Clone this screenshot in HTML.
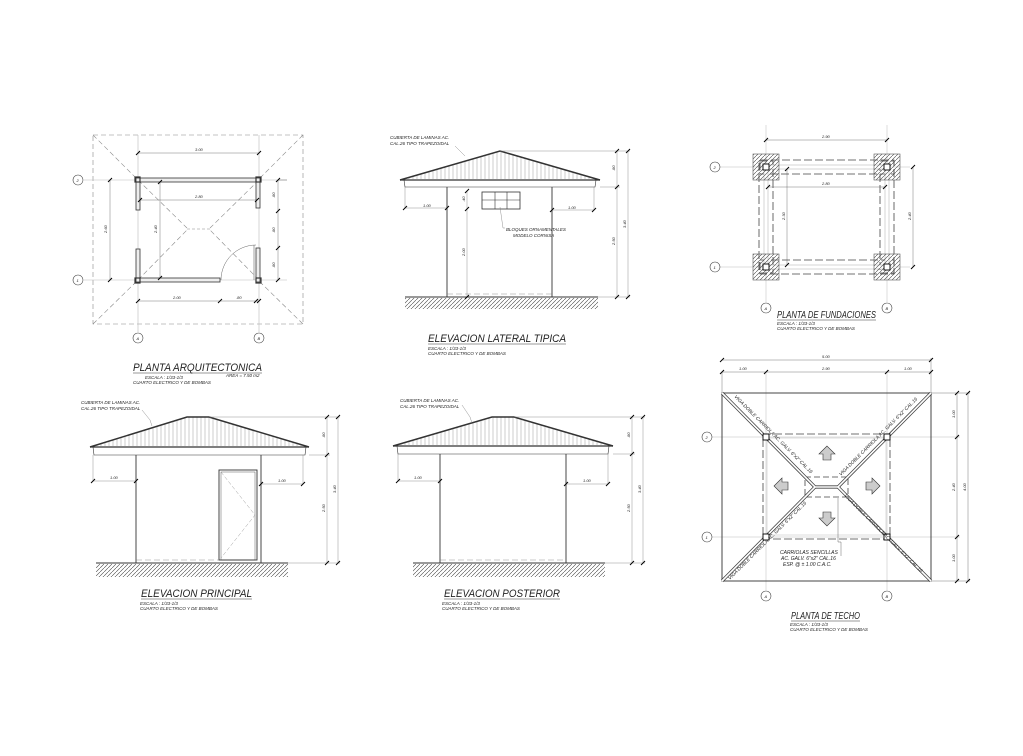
<!DOCTYPE html>
<html><head><meta charset="utf-8"><style>
html,body{margin:0;padding:0;background:#fff}
svg{display:block}
text{font-family:"Liberation Sans",sans-serif;font-style:italic;fill:#222}
.t{font-size:11px}
.s{font-size:4.5px}
.d{font-size:4px;font-style:normal}
</style></head><body>
<svg width="1023" height="756" viewBox="0 0 1023 756" xmlns="http://www.w3.org/2000/svg">
<defs>
<pattern id="vl" width="4" height="10" patternUnits="userSpaceOnUse"><line x1="1" y1="0" x2="1" y2="10" stroke="#999" stroke-width="0.5"/></pattern>
<pattern id="hz" width="4" height="4" patternUnits="userSpaceOnUse"><line x1="0" y1="4" x2="4" y2="0" stroke="#444" stroke-width="0.6"/></pattern>
<g id="tk"><line x1="-2" y1="2" x2="2" y2="-2" stroke="#000" stroke-width="1"/></g>
</defs>

<!-- ===== PLANTA ARQUITECTONICA ===== -->
<g stroke="#888" stroke-width="0.6" fill="none">
<rect x="93" y="135" width="210" height="189" stroke-dasharray="5,3"/>
<line x1="93" y1="135" x2="136" y2="178" stroke-dasharray="5,3"/>
<line x1="303" y1="135" x2="260" y2="178" stroke-dasharray="5,3"/>
<line x1="93" y1="324" x2="136" y2="282" stroke-dasharray="5,3"/>
<line x1="303" y1="324" x2="260" y2="282" stroke-dasharray="5,3"/>
<line x1="138" y1="180" x2="187" y2="228" stroke-dasharray="5,3"/>
<line x1="259" y1="180" x2="210" y2="228" stroke-dasharray="5,3"/>
<line x1="138" y1="280" x2="187" y2="230" stroke-dasharray="5,3"/>
<line x1="259" y1="280" x2="210" y2="230" stroke-dasharray="5,3"/>
<line x1="187" y1="229" x2="210" y2="229" stroke-dasharray="3,2"/>
<line x1="138" y1="135" x2="138" y2="332" stroke="#bbb"/>
<line x1="259" y1="135" x2="259" y2="332" stroke="#bbb"/>
<line x1="84" y1="180" x2="287" y2="180" stroke="#bbb"/>
<line x1="84" y1="280" x2="287" y2="280" stroke="#bbb"/>
</g>
<g stroke="#333" stroke-width="0.8" fill="#eee">
<rect x="136" y="178" width="124" height="4"/>
<rect x="136" y="178" width="4" height="32"/>
<rect x="136" y="249" width="4" height="33"/>
<rect x="256" y="178" width="4" height="30"/>
<rect x="256" y="248" width="4" height="34"/>
<rect x="136" y="278" width="84" height="4"/>
<rect x="135" y="177" width="5" height="5" fill="none" stroke-width="1.2"/>
<rect x="256" y="177" width="5" height="5" fill="none" stroke-width="1.2"/>
<rect x="135" y="278" width="5" height="5" fill="none" stroke-width="1.2"/>
<rect x="256" y="278" width="5" height="5" fill="none" stroke-width="1.2"/>
</g>
<path d="M221 280 A35 35 0 0 1 256 245" stroke="#666" stroke-width="0.5" fill="none"/>
<line x1="254" y1="245" x2="254" y2="280" stroke="#666" stroke-width="0.6"/>
<g stroke="#555" stroke-width="0.4">
<line x1="138" y1="153" x2="259" y2="153"/><line x1="140" y1="200" x2="257" y2="200"/>
<line x1="110" y1="180" x2="110" y2="280"/><line x1="160" y1="182" x2="160" y2="278"/>
<line x1="278" y1="180" x2="278" y2="280"/><line x1="278" y1="180" x2="287" y2="180"/>
<line x1="138" y1="301" x2="259" y2="301"/>
</g>
<g><use href="#tk" x="138" y="153"/><use href="#tk" x="259" y="153"/><use href="#tk" x="140" y="200"/><use href="#tk" x="257" y="200"/>
<use href="#tk" x="110" y="180"/><use href="#tk" x="110" y="280"/><use href="#tk" x="160" y="182"/><use href="#tk" x="160" y="278"/>
<use href="#tk" x="278" y="180"/><use href="#tk" x="278" y="211"/><use href="#tk" x="278" y="248"/><use href="#tk" x="278" y="280"/>
<use href="#tk" x="138" y="301"/><use href="#tk" x="220" y="301"/><use href="#tk" x="256" y="301"/><use href="#tk" x="259" y="301"/></g>
<g class="d"><text x="195" y="151">3.00</text><text x="195" y="198">2.80</text><text x="173" y="299">2.00</text><text x="236" y="299">.80</text>
<text x="107" y="233" transform="rotate(-90 107 233)">2.60</text><text x="157" y="233" transform="rotate(-90 157 233)">2.40</text>
<text x="275" y="198" transform="rotate(-90 275 198)">.80</text><text x="275" y="233" transform="rotate(-90 275 233)">.80</text><text x="275" y="268" transform="rotate(-90 275 268)">.80</text></g>
<g stroke="#444" stroke-width="0.6" fill="#fff">
<circle cx="78" cy="180" r="5"/><circle cx="78" cy="280" r="5"/><circle cx="138" cy="338" r="5"/><circle cx="259" cy="338" r="5"/></g>
<g class="d"><text x="76.5" y="182">2</text><text x="76.5" y="282">1</text><text x="136.5" y="340">A</text><text x="257.5" y="340">B</text></g>
<text class="t" x="133" y="371" textLength="129" lengthAdjust="spacingAndGlyphs">PLANTA ARQUITECTONICA</text>
<line x1="133" y1="373" x2="262" y2="373" stroke="#333" stroke-width="0.5"/>
<text class="s" x="145" y="379">ESCALA : 1/33-1/3</text><text class="s" x="226" y="377">AREA = 7.50 m2</text>
<text class="s" x="133" y="384">CUARTO ELECTRICO Y DE BOMBAS</text>

<!-- ===== ELEVACION LATERAL ===== -->
<polygon points="402,179 500,151 598,179" fill="url(#vl)"/>
<g stroke="#333" fill="none">
<polyline points="400,180 500,151 600,180" stroke-width="1.5"/>
<line x1="400" y1="180" x2="600" y2="180" stroke-width="1.2"/>
<polyline points="404,180 405,187 595,187 596,180" stroke-width="0.6"/>
<line x1="447" y1="187" x2="447" y2="297" stroke-width="0.9"/><line x1="552" y1="187" x2="552" y2="297" stroke-width="0.9"/>
<line x1="405" y1="297" x2="598" y2="297" stroke-width="1"/>
<rect x="482" y="192" width="38" height="17" stroke-width="0.8"/>
<line x1="495" y1="192" x2="495" y2="209" stroke-width="0.6"/><line x1="507" y1="192" x2="507" y2="209" stroke-width="0.6"/><line x1="482" y1="200" x2="520" y2="200" stroke-width="0.6"/>
</g>
<rect x="405" y="298" width="193" height="11" fill="url(#hz)"/>
<g stroke="#777" stroke-width="0.4" fill="none">
<line x1="447" y1="294" x2="552" y2="294" stroke-dasharray="6,3"/>
<line x1="405" y1="208" x2="447" y2="208"/><line x1="405" y1="187" x2="405" y2="208"/>
<line x1="552" y1="210" x2="594" y2="210"/><line x1="594" y1="187" x2="594" y2="210"/>
<line x1="467" y1="191" x2="467" y2="297"/>
<line x1="617" y1="151" x2="617" y2="297"/><line x1="628" y1="151" x2="628" y2="297"/>
<line x1="500" y1="151" x2="630" y2="151"/><line x1="600" y1="187" x2="620" y2="187"/><line x1="598" y1="297" x2="630" y2="297"/>
<polyline points="500,207 503,228 505,228" /><polyline points="455,146 465,156"/>
</g>
<g><use href="#tk" x="405" y="208"/><use href="#tk" x="447" y="208"/><use href="#tk" x="552" y="210"/><use href="#tk" x="594" y="210"/>
<use href="#tk" x="617" y="151"/><use href="#tk" x="617" y="187"/><use href="#tk" x="617" y="297"/><use href="#tk" x="628" y="151"/><use href="#tk" x="628" y="297"/>
<use href="#tk" x="467" y="191"/><use href="#tk" x="467" y="209"/><use href="#tk" x="467" y="297"/></g>
<g class="d"><text x="423" y="207">1.00</text><text x="568" y="209">1.00</text>
<text x="615" y="171" transform="rotate(-90 615 171)">.80</text><text x="615" y="245" transform="rotate(-90 615 245)">2.50</text><text x="626" y="228" transform="rotate(-90 626 228)">3.40</text>
<text x="465" y="202" transform="rotate(-90 465 202)">.40</text><text x="465" y="256" transform="rotate(-90 465 256)">2.00</text></g>
<text class="s" x="390" y="139">CUBIERTA DE LAMINAS AC.</text><text class="s" x="390" y="145">CAL.26 TIPO TRAPEZOIDAL</text>
<text class="s" x="506" y="231">BLOQUES ORNAMENTALES</text><text class="s" x="513" y="237">MODELO CORNISA</text>
<text class="t" x="428" y="342" textLength="138" lengthAdjust="spacingAndGlyphs">ELEVACION LATERAL TIPICA</text>
<line x1="428" y1="344" x2="566" y2="344" stroke="#333" stroke-width="0.5"/>
<text class="s" x="428" y="350">ESCALA : 1/33-1/3</text><text class="s" x="428" y="355">CUARTO ELECTRICO Y DE BOMBAS</text>

<!-- ===== PLANTA DE FUNDACIONES ===== -->
<g stroke="#bbb" stroke-width="0.5">
<line x1="766" y1="125" x2="766" y2="302"/><line x1="887" y1="125" x2="887" y2="302"/>
<line x1="720" y1="167" x2="910" y2="167"/><line x1="720" y1="267" x2="910" y2="267"/></g>
<g stroke="#444" stroke-width="0.8" fill="none" stroke-dasharray="8,3">
<rect x="760" y="160" width="134" height="14"/><rect x="760" y="260" width="134" height="14"/>
<rect x="759" y="161" width="14" height="112"/><rect x="880" y="161" width="14" height="112"/>
</g>
<g stroke="#aaa" stroke-width="0.5" fill="#fff">
<rect x="766" y="165" width="121" height="4"/><rect x="766" y="265" width="121" height="4"/>
<rect x="764" y="167" width="4" height="100"/><rect x="885" y="167" width="4" height="100"/></g>
<g stroke="#555" stroke-width="0.6" fill="url(#hz)">
<rect x="753" y="154" width="26" height="26"/><rect x="874" y="154" width="26" height="26"/>
<rect x="753" y="254" width="26" height="26"/><rect x="874" y="254" width="26" height="26"/></g>
<g stroke="#000" stroke-width="0.9" fill="#fff">
<rect x="763" y="164" width="6" height="6"/><rect x="884" y="164" width="6" height="6"/><rect x="763" y="264" width="6" height="6"/><rect x="884" y="264" width="6" height="6"/></g>
<g stroke="#555" stroke-width="0.4">
<line x1="766" y1="140" x2="887" y2="140"/><line x1="768" y1="187" x2="885" y2="187"/>
<line x1="787" y1="169" x2="787" y2="265"/><line x1="913" y1="167" x2="913" y2="267"/></g>
<g><use href="#tk" x="766" y="140"/><use href="#tk" x="887" y="140"/><use href="#tk" x="768" y="187"/><use href="#tk" x="885" y="187"/>
<use href="#tk" x="787" y="169"/><use href="#tk" x="787" y="265"/><use href="#tk" x="913" y="167"/><use href="#tk" x="913" y="267"/></g>
<g class="d"><text x="822" y="138">2.90</text><text x="822" y="185">2.80</text>
<text x="785" y="220" transform="rotate(-90 785 220)">2.30</text><text x="911" y="220" transform="rotate(-90 911 220)">2.40</text></g>
<g stroke="#444" stroke-width="0.6" fill="#fff"><circle cx="715" cy="167" r="5"/><circle cx="715" cy="267" r="5"/><circle cx="766" cy="308" r="5"/><circle cx="887" cy="308" r="5"/></g>
<g class="d"><text x="713.5" y="169">2</text><text x="713.5" y="269">1</text><text x="764.5" y="310">A</text><text x="885.5" y="310">B</text></g>
<text class="t" x="777" y="318" style="font-size:10px" textLength="99" lengthAdjust="spacingAndGlyphs">PLANTA DE FUNDACIONES</text>
<line x1="777" y1="320" x2="876" y2="320" stroke="#333" stroke-width="0.5"/>
<text class="s" x="777" y="325">ESCALA : 1/33-1/3</text><text class="s" x="777" y="330">CUARTO ELECTRICO Y DE BOMBAS</text>

<!-- ===== ELEVACION PRINCIPAL ===== -->
<polygon points="92,446 187,417 209,417 308,446" fill="url(#vl)"/>
<g stroke="#333" fill="none">
<polyline points="90,447 187,417 209,417 309,447" stroke-width="1.5"/>
<line x1="90" y1="447" x2="309" y2="447" stroke-width="1.2"/>
<polyline points="93,447 94,455 305,455 306,447" stroke-width="0.6"/>
<line x1="136" y1="455" x2="136" y2="563" stroke-width="0.9"/><line x1="261" y1="455" x2="261" y2="563" stroke-width="0.9"/>
<line x1="96" y1="563" x2="288" y2="563" stroke-width="1"/>
<rect x="219" y="470" width="38" height="90" stroke-width="0.9"/><rect x="221" y="472" width="34" height="88" stroke-width="0.4"/>
<polyline points="221,472 255,515 221,558" stroke="#888" stroke-width="0.4" stroke-dasharray="4,2"/>
</g>
<rect x="96" y="564" width="192" height="13" fill="url(#hz)"/>
<g stroke="#777" stroke-width="0.4" fill="none">
<line x1="136" y1="560" x2="219" y2="560" stroke-dasharray="6,3"/>
<line x1="93" y1="481" x2="136" y2="481"/><line x1="93" y1="455" x2="93" y2="481"/>
<line x1="261" y1="484" x2="303" y2="484"/><line x1="303" y1="455" x2="303" y2="484"/>
<line x1="327" y1="417" x2="327" y2="563"/><line x1="338" y1="417" x2="338" y2="563"/>
<line x1="209" y1="417" x2="340" y2="417"/><line x1="309" y1="455" x2="330" y2="455"/><line x1="288" y1="563" x2="340" y2="563"/>
<polyline points="142,410 150,420 152,426"/>
</g>
<g><use href="#tk" x="93" y="481"/><use href="#tk" x="136" y="481"/><use href="#tk" x="261" y="484"/><use href="#tk" x="303" y="484"/>
<use href="#tk" x="327" y="417"/><use href="#tk" x="327" y="455"/><use href="#tk" x="327" y="563"/><use href="#tk" x="338" y="417"/><use href="#tk" x="338" y="563"/></g>
<g class="d"><text x="110" y="479">1.00</text><text x="278" y="482">1.00</text>
<text x="325" y="438" transform="rotate(-90 325 438)">.80</text><text x="325" y="512" transform="rotate(-90 325 512)">2.50</text><text x="336" y="493" transform="rotate(-90 336 493)">3.40</text></g>
<text class="s" x="81" y="404">CUBIERTA DE LAMINAS AC.</text><text class="s" x="81" y="410">CAL.26 TIPO TRAPEZOIDAL</text>
<text class="t" x="141" y="597" textLength="111" lengthAdjust="spacingAndGlyphs">ELEVACION PRINCIPAL</text>
<line x1="141" y1="599" x2="252" y2="599" stroke="#333" stroke-width="0.5"/>
<text class="s" x="140" y="605">ESCALA : 1/33-1/3</text><text class="s" x="140" y="610">CUARTO ELECTRICO Y DE BOMBAS</text>

<!-- ===== ELEVACION POSTERIOR ===== -->
<polygon points="395,445 492,417 514,417 611,445" fill="url(#vl)"/>
<g stroke="#333" fill="none">
<polyline points="393,446 492,417 514,417 613,446" stroke-width="1.5"/>
<line x1="393" y1="446" x2="613" y2="446" stroke-width="1.2"/>
<polyline points="397,446 398,454 608,454 609,446" stroke-width="0.6"/>
<line x1="440" y1="454" x2="440" y2="563" stroke-width="0.9"/><line x1="566" y1="454" x2="566" y2="563" stroke-width="0.9"/>
<line x1="413" y1="563" x2="605" y2="563" stroke-width="1"/>
</g>
<rect x="413" y="564" width="192" height="13" fill="url(#hz)"/>
<g stroke="#777" stroke-width="0.4" fill="none">
<line x1="440" y1="560" x2="566" y2="560" stroke-dasharray="6,3"/>
<line x1="398" y1="481" x2="440" y2="481"/><line x1="398" y1="454" x2="398" y2="481"/>
<line x1="566" y1="484" x2="608" y2="484"/><line x1="608" y1="454" x2="608" y2="484"/>
<line x1="632" y1="417" x2="632" y2="563"/><line x1="643" y1="417" x2="643" y2="563"/>
<line x1="514" y1="417" x2="645" y2="417"/><line x1="613" y1="454" x2="635" y2="454"/><line x1="605" y1="563" x2="645" y2="563"/>
<polyline points="462,405 470,417 472,423"/>
</g>
<g><use href="#tk" x="398" y="481"/><use href="#tk" x="440" y="481"/><use href="#tk" x="566" y="484"/><use href="#tk" x="608" y="484"/>
<use href="#tk" x="632" y="417"/><use href="#tk" x="632" y="454"/><use href="#tk" x="632" y="563"/><use href="#tk" x="643" y="417"/><use href="#tk" x="643" y="563"/></g>
<g class="d"><text x="414" y="479">1.00</text><text x="583" y="482">1.00</text>
<text x="630" y="438" transform="rotate(-90 630 438)">.80</text><text x="630" y="512" transform="rotate(-90 630 512)">2.50</text><text x="641" y="493" transform="rotate(-90 641 493)">3.40</text></g>
<text class="s" x="400" y="402">CUBIERTA DE LAMINAS AC.</text><text class="s" x="400" y="408">CAL.26 TIPO TRAPEZOIDAL</text>
<text class="t" x="444" y="597" textLength="116" lengthAdjust="spacingAndGlyphs">ELEVACION POSTERIOR</text>
<line x1="444" y1="599" x2="560" y2="599" stroke="#333" stroke-width="0.5"/>
<text class="s" x="442" y="605">ESCALA : 1/33-1/3</text><text class="s" x="442" y="610">CUARTO ELECTRICO Y DE BOMBAS</text>

<!-- ===== PLANTA DE TECHO ===== -->
<g stroke="#bbb" stroke-width="0.5">
<line x1="766" y1="372" x2="766" y2="590"/><line x1="887" y1="372" x2="887" y2="590"/>
<line x1="712" y1="437" x2="960" y2="437"/><line x1="712" y1="537" x2="960" y2="537"/></g>
<rect x="722" y="393" width="209" height="188" stroke="#444" stroke-width="1" fill="none"/>
<rect x="763" y="434" width="127" height="105" stroke="#444" stroke-width="0.8" fill="none" stroke-dasharray="8,3"/>
<rect x="767" y="438" width="119" height="97" stroke="#bbb" stroke-width="0.5" fill="none"/>
<rect x="805" y="477" width="43" height="20" stroke="#444" stroke-width="0.8" fill="none" stroke-dasharray="6,3"/>
<g stroke="#444" stroke-width="3.2" fill="none">
<polyline points="722,393 815,487 838,487 931,393"/><polyline points="722,581 815,487"/><polyline points="838,487 931,581"/></g>
<g stroke="#fff" stroke-width="1.6" fill="none">
<polyline points="722,393 815,487 838,487 931,393"/><polyline points="722,581 815,487"/><polyline points="838,487 931,581"/></g>
<g stroke="#000" stroke-width="0.9" fill="#fff">
<rect x="763" y="434" width="6" height="6"/><rect x="884" y="434" width="6" height="6"/><rect x="763" y="534" width="6" height="6"/><rect x="884" y="534" width="6" height="6"/></g>
<g class="s" style="font-size:4.8px">
<text transform="translate(734,397) rotate(45)">VIGA DOBLE CARRIOLA AC. GALV. 6"x2" CAL.16</text>
<text transform="translate(841,476) rotate(-45)">VIGA DOBLE CARRIOLA AC. GALV. 6"x2" CAL.16</text>
<text transform="translate(730,580) rotate(-45)">VIGA DOBLE CARRIOLA AC. GALV. 6"x2" CAL.16</text>
<text transform="translate(844,496) rotate(45)">VIGA DOBLE CARRIOLA AC. GALV. 6"x2" CAL.16</text>
</g>
<g stroke="#333" stroke-width="0.6" fill="#ccc">
<polygon points="827,446 819,454 823,454 823,460 831,460 831,454 835,454"/>
<polygon points="827,526 819,518 823,518 823,512 831,512 831,518 835,518"/>
<polygon points="774,486 782,478 782,482 788,482 788,490 782,490 782,494"/>
<polygon points="880,486 872,478 872,482 866,482 866,490 872,490 872,494"/>
</g>
<polyline points="838,498 838,542 841,542 841,556" stroke="#444" stroke-width="0.4" fill="none"/>
<g class="s" style="font-size:5px"><text x="780" y="554">CARRIOLAS SENCILLAS</text><text x="781" y="560">AC. GALV. 6"x2" CAL.16</text><text x="783" y="566">ESP. @ ± 1.00 C.A.C.</text></g>
<g stroke="#555" stroke-width="0.4">
<line x1="722" y1="360" x2="931" y2="360"/><line x1="722" y1="372" x2="931" y2="372"/>
<line x1="722" y1="372" x2="722" y2="393"/><line x1="931" y1="358" x2="931" y2="393"/>
<line x1="957" y1="393" x2="957" y2="581"/><line x1="968" y1="393" x2="968" y2="581"/>
<line x1="931" y1="393" x2="970" y2="393"/><line x1="931" y1="581" x2="970" y2="581"/></g>
<g><use href="#tk" x="722" y="360"/><use href="#tk" x="931" y="360"/><use href="#tk" x="722" y="372"/><use href="#tk" x="766" y="372"/><use href="#tk" x="887" y="372"/><use href="#tk" x="931" y="372"/>
<use href="#tk" x="957" y="393"/><use href="#tk" x="957" y="437"/><use href="#tk" x="957" y="537"/><use href="#tk" x="957" y="581"/><use href="#tk" x="968" y="393"/><use href="#tk" x="968" y="581"/></g>
<g class="d"><text x="822" y="358">5.00</text><text x="739" y="370">1.00</text><text x="822" y="370">2.90</text><text x="904" y="370">1.00</text>
<text x="955" y="418" transform="rotate(-90 955 418)">1.00</text><text x="955" y="491" transform="rotate(-90 955 491)">2.40</text><text x="955" y="562" transform="rotate(-90 955 562)">1.00</text><text x="966" y="491" transform="rotate(-90 966 491)">4.00</text></g>
<g stroke="#444" stroke-width="0.6" fill="#fff"><circle cx="707" cy="437" r="5"/><circle cx="707" cy="537" r="5"/><circle cx="766" cy="596" r="5"/><circle cx="887" cy="596" r="5"/></g>
<g class="d"><text x="705.5" y="439">2</text><text x="705.5" y="539">1</text><text x="764.5" y="598">A</text><text x="885.5" y="598">B</text></g>
<text class="t" x="791" y="619" style="font-size:10px" textLength="69" lengthAdjust="spacingAndGlyphs">PLANTA DE TECHO</text>
<line x1="791" y1="621" x2="860" y2="621" stroke="#333" stroke-width="0.5"/>
<text class="s" x="790" y="626">ESCALA : 1/33-1/3</text><text class="s" x="790" y="631">CUARTO ELECTRICO Y DE BOMBAS</text>
</svg>
</body></html>
